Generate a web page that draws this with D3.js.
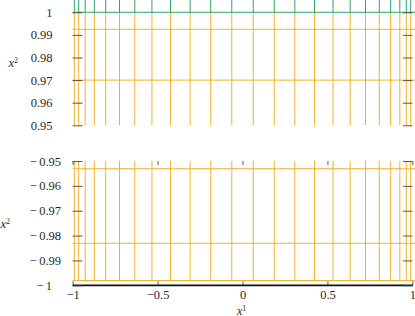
<!DOCTYPE html>
<html><head><meta charset="utf-8">
<script src="https://cdn.jsdelivr.net/npm/d3@7"></script>
<style>
html,body{margin:0;padding:0;background:#fff;}
svg{display:block;}
svg text{font-family:"Liberation Serif","Times New Roman",Times,"Noto Serif","DejaVu Serif",serif !important;fill:#2a2a2a;}
</style></head>
<body>
<svg id="c" width="415" height="316"></svg>
<script>
// ---- data ----
const xNodes = [-0.990,-0.964,-0.926,-0.872,-0.805,-0.724,-0.634,-0.533,-0.424,-0.308,-0.187,-0.063,
                 0.063,0.187,0.308,0.424,0.533,0.634,0.724,0.805,0.872,0.926,0.964,0.990];
const topLevels = [0.9925, 0.970];
const topBoundary = [1];
const bottomLevels = [-0.9531, -0.9831, -0.9981];
const bottomBoundary = [-1];
const xTicks = [-1, -0.5, 0, 0.5, 1];
const xTickLabels = ["\u22121", "\u22120.5", "0", "0.5", "1"];
const topTicks = [0.95, 0.96, 0.97, 0.98, 0.99, 1];
const topTickLabels = ["0.95", "0.96", "0.97", "0.98", "0.99", "1"];
const bottomTicks = [-1, -0.99, -0.98, -0.97, -0.96, -0.95];
const bottomTickLabels = ["\u2212\u20091", "\u2212\u20090.99", "\u2212\u20090.98", "\u2212\u20090.97", "\u2212\u20090.96", "\u2212\u20090.95"];

const FONT = '"Liberation Serif","Times New Roman",Times,"Noto Serif","DejaVu Serif",serif';
const ORANGE = "#f0b12c", GREEN = "#2ea46a";
const svg = d3.select("#c");
const x = d3.scaleLinear().domain([-1, 1]).range([72.6, 412.4]);
const yT = d3.scaleLinear().domain([0.95, 1]).range([125.3, 12.3]);
const yB = d3.scaleLinear().domain([-1, -0.95]).range([285.3, 161]);

// ---- top panel ----
const gT = svg.append("g");
gT.selectAll("line.v").data(xNodes).join("line")
  .attr("x1", d => x(d)).attr("x2", d => x(d))
  .attr("y1", yT(0.95)).attr("y2", yT(1))
  .attr("stroke", ORANGE).attr("stroke-width", 1);
gT.selectAll("line.g").data(xNodes).join("line")
  .attr("x1", d => x(d)).attr("x2", d => x(d))
  .attr("y1", yT(1)).attr("y2", 0)
  .attr("stroke", GREEN).attr("stroke-width", 1);
gT.selectAll("line.h").data(topLevels).join("line")
  .attr("x1", x(-1)).attr("x2", 415)
  .attr("y1", d => yT(d)).attr("y2", d => yT(d))
  .attr("stroke", ORANGE).attr("stroke-width", 1);
gT.selectAll("line.b").data(topBoundary).join("line")
  .attr("x1", x(-1)).attr("x2", 415)
  .attr("y1", d => yT(d)).attr("y2", d => yT(d))
  .attr("stroke", GREEN).attr("stroke-width", 1.1);

// ---- bottom panel ----
const gB = svg.append("g");
gB.selectAll("line.v").data(xNodes).join("line")
  .attr("x1", d => x(d)).attr("x2", d => x(d))
  .attr("y1", yB(-0.95)).attr("y2", yB(bottomLevels[2]))
  .attr("stroke", ORANGE).attr("stroke-width", 1);
gB.selectAll("line.h").data(bottomLevels).join("line")
  .attr("x1", x(-1)).attr("x2", 415)
  .attr("y1", d => yB(d)).attr("y2", d => yB(d))
  .attr("stroke", ORANGE).attr("stroke-width", 1);
gB.selectAll("line.b").data(bottomBoundary).join("line")
  .attr("x1", x(-1)).attr("x2", x(1) + 0.6)
  .attr("y1", d => yB(d)).attr("y2", d => yB(d))
  .attr("stroke", "#111").attr("stroke-width", 1.7);

// ---- axes ----
function styleAxis(g){
  g.attr("font-family", FONT);
  g.select(".domain").remove();
  g.selectAll(".tick line").attr("stroke", "#444").attr("stroke-width", 0.9);
  g.selectAll(".tick text").attr("font-size", 12.5).attr("fill", "#2a2a2a")
   .style("font-family", FONT);
}
// top panel y ticks
svg.append("g").attr("transform", `translate(${x(-1)},0)`)
  .call(d3.axisLeft(yT).tickValues(topTicks).tickSize(-10).tickPadding(20)
        .tickFormat((d,i) => topTickLabels[i]))
  .call(styleAxis);
svg.append("g").attr("transform", `translate(${x(1)},0)`)
  .call(d3.axisRight(yT).tickValues(topTicks).tickSize(-9.5).tickFormat(""))
  .call(styleAxis);
// bottom panel y ticks
svg.append("g").attr("transform", `translate(${x(-1)},0)`)
  .call(d3.axisLeft(yB).tickValues(bottomTicks).tickSize(-10).tickPadding(11.5)
        .tickFormat((d,i) => bottomTickLabels[i]))
  .call(styleAxis)
  .call(g => g.selectAll(".tick text").filter(d => d === -1).attr("x", -20.5));
svg.append("g").attr("transform", `translate(${x(1)},0)`)
  .call(d3.axisRight(yB).tickValues(bottomTicks).tickSize(-9.5).tickFormat(""))
  .call(styleAxis);
// bottom panel x ticks (top & bottom, inward)
svg.append("g").attr("transform", `translate(0,${yB(-0.95)})`)
  .call(d3.axisTop(x).tickValues(xTicks).tickSize(-4).tickFormat(""))
  .call(styleAxis);
svg.append("g").attr("transform", `translate(0,${yB(-1)})`)
  .call(d3.axisBottom(x).tickValues(xTicks).tickSize(-4).tickPadding(5)
        .tickFormat((d,i) => xTickLabels[i]))
  .call(styleAxis);

// ---- axis titles ----
function title(g, xx, yy, sup, fs){
  const t = g.append("text").attr("x", xx).attr("y", yy)
    .attr("font-size", fs).attr("font-style", "italic").style("font-family", FONT);
  t.append("tspan").text("x");
  t.append("tspan").attr("dy", -4).attr("font-size", 8).attr("font-style", "normal").text(sup);
}
title(svg, 8.5, 67, "2", 12.5);
title(svg, 0.5, 228, "2", 12.5);
title(svg, 237, 314.5, "1", 12);
</script>
</body></html>
